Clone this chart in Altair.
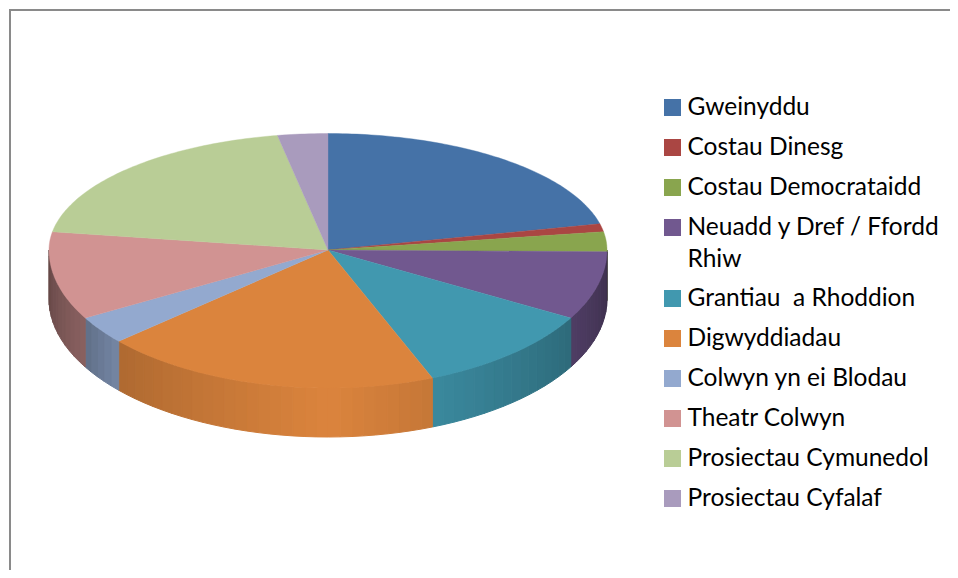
import numpy as np
import pandas as pd
import altair as alt

names = ["Gweinyddu", "Costau Dinesg", "Costau Democrataidd", "Neuadd y Dref / Ffordd Rhiw",
         "Grantiau  a Rhoddion", "Digwyddiadau", "Colwyn yn ei Blodau", "Theatr Colwyn",
         "Prosiectau Cymunedol", "Prosiectau Cyfalaf"]
shares = [21.4, 1.1, 2.7, 8.0, 10.7, 19.6, 3.3, 10.7, 19.6, 2.9]
colors = ["#4572A7", "#AA4643", "#89A54E", "#71588F", "#4198AF",
          "#DB843D", "#93A9CF", "#D19392", "#B9CD96", "#A99BBD"]
legend_lines = [["Gweinyddu"], ["Costau Dinesg"], ["Costau Democrataidd"],
                ["Neuadd y Dref / Ffordd", "Rhiw"], ["Grantiau\u00a0 a Rhoddion"], ["Digwyddiadau"],
                ["Colwyn yn ei Blodau"], ["Theatr Colwyn"], ["Prosiectau Cymunedol"], ["Prosiectau Cyfalaf"]]

CX, CY, RX, RY_BACK, RY_FRONT, DEPTH = 328, 250, 279, 116.5, 138, 49
light_angle = [90, 120, 158, 180, 228, 240, 270]
light_level = [0.52, 0.70, 0.90, 1.0, 0.80, 0.66, 0.48]


def rim(deg, drop=0.0):
    t = np.radians(deg)
    c = np.cos(t)
    ry = RY_BACK if c > 0 else RY_FRONT
    return CX + RX * np.sin(t), CY + drop - ry * c


def shade(hex_color, k):
    r, g, b = (int(hex_color[i:i + 2], 16) for i in (1, 3, 5))
    return "#%02x%02x%02x" % (round(r * k), round(g * k), round(b * k))


total = sum(shares)
edges = np.concatenate([[0], np.cumsum(shares) / total * 360])

side_rows, top_rows = [], []
for i, col in enumerate(colors):
    a0, a1 = edges[i], edges[i + 1]
    lo, hi = max(a0, 90), min(a1, 270)
    if hi > lo:
        ticks = np.linspace(lo, hi, max(2, int((hi - lo) / 2.5) + 2))
        for j in range(len(ticks) - 1):
            mid = (ticks[j] + ticks[j + 1]) / 2
            fill = shade(col, float(np.interp(mid, light_angle, light_level)))
            corners = [(ticks[j], 0), (ticks[j + 1], 0), (ticks[j + 1], DEPTH), (ticks[j], DEPTH)]
            for k, (ang, drop) in enumerate(corners):
                px, py = rim(ang, drop)
                side_rows.append(dict(piece=f"{i}-{j}", seq=k, x=px, y=py, c=fill))
    arc = np.linspace(a0, a1, max(2, int(a1 - a0) + 2))
    top_rows.append(dict(piece=str(i), seq=0, x=CX, y=CY, c=col))
    for k, ang in enumerate(arc):
        px, py = rim(ang)
        top_rows.append(dict(piece=str(i), seq=k + 1, x=px, y=py, c=col))

sq_rows, text_rows = [], []
row_y = 107.5
for name, col, lines in zip(names, colors, legend_lines):
    sq_rows.append(dict(x=672.5, y=row_y, c=col, name=name))
    for n, line in enumerate(lines):
        text_rows.append(dict(x=687.5, y=row_y + 0.8 + n * 32, t=line))
    row_y += 40 + (len(lines) - 1) * 31

RIGHT, BOTTOM = 950, 570
X = alt.X("x:Q", axis=None, scale=alt.Scale(domain=[8, RIGHT], nice=False, zero=False))
Y = alt.Y("y:Q", axis=None, scale=alt.Scale(domain=[BOTTOM, 8], nice=False, zero=False))


def poly(rows, sw):
    return alt.Chart(pd.DataFrame(rows)).mark_line(interpolate="linear-closed", strokeWidth=sw).encode(
        x=X, y=Y, detail="piece:N", order="seq:Q",
        fill=alt.Fill("c:N", scale=None), stroke=alt.Stroke("c:N", scale=None))


frame_top = alt.Chart(pd.DataFrame({"x": [9], "x2": [RIGHT], "y": [10]})).mark_rule(
    color="#8a8a8a", strokeWidth=2).encode(x=X, x2="x2:Q", y=Y)
frame_left = alt.Chart(pd.DataFrame({"x": [10], "y": [9], "y2": [BOTTOM]})).mark_rule(
    color="#8a8a8a", strokeWidth=2).encode(x=X, y=Y, y2="y2:Q")

squares = alt.Chart(pd.DataFrame(sq_rows)).mark_square(size=289, opacity=1, filled=True).encode(
    x=X, y=Y, fill=alt.Fill("c:N", scale=None))
labels = alt.Chart(pd.DataFrame(text_rows)).mark_text(
    align="left", baseline="middle", font="Lato", fontSize=24.5, color="#000000").encode(x=X, y=Y, text="t:N")

chart = alt.layer(
    frame_top, frame_left, poly(side_rows, 1.0), poly(top_rows, 0.4), squares, labels
).properties(width=RIGHT - 8, height=BOTTOM - 8, padding=0, background="white",
             autosize=alt.AutoSizeParams(type="none")).configure_view(stroke=None)

chart.save("out.html", embed_options={"renderer": "svg", "actions": False})
